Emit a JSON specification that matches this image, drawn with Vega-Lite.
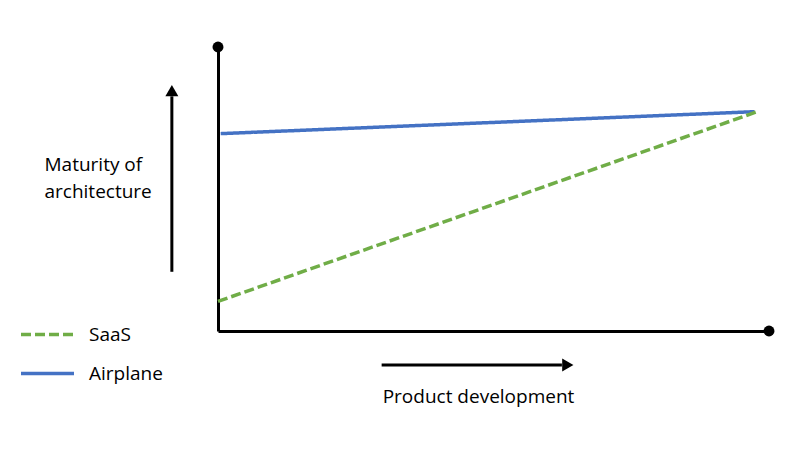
{
  "$schema": "https://vega.github.io/schema/vega-lite/v6.json",
  "width": 551,
  "height": 284,
  "autosize": "none",
  "padding": {"left": 218, "top": 47, "right": 41, "bottom": 119},
  "background": "white",
  "config": {"view": {"stroke": null}, "font": "Open Sans"},
  "datasets": {
    "series": [
      {"series": "Airplane", "stage": 0.5, "maturity": 90},
      {"series": "Airplane", "stage": 100, "maturity": 100},
      {"series": "SaaS", "stage": 0, "maturity": 13.5},
      {"series": "SaaS", "stage": 100.5, "maturity": 100}
    ],
    "ends": [
      {"stage": 0, "maturity": 129.5},
      {"stage": 102.7, "maturity": 0}
    ],
    "arrows": [
      {"arrow": "maturity", "stage": -8.6, "maturity": 27, "stage2": -8.6, "maturity2": 107},
      {"arrow": "development", "stage": 30.5, "maturity": -15.5, "stage2": 64.1, "maturity2": -15.5}
    ],
    "headsUp": [{"stage": -8.6, "maturity": 109.6}],
    "headsRight": [{"stage": 65.2, "maturity": -15.5}]
  },
  "layer": [
    {
      "data": {"name": "series"},
      "mark": {"type": "line", "strokeWidth": 3.5, "strokeCap": "butt"},
      "encoding": {
        "x": {
          "field": "stage", "type": "quantitative",
          "scale": {"domain": [0, 102.7], "nice": false, "zero": false},
          "axis": {
            "title": "Product development", "domain": true, "domainColor": "black", "domainWidth": 3,
            "ticks": false, "labels": false, "grid": false,
            "titleX": 260, "titleY": 65, "titleAlign": "center", "titleBaseline": "middle",
            "titleFontSize": 19, "titleFontWeight": "normal", "titleColor": "black", "titleFont": "Open Sans"
          }
        },
        "y": {
          "field": "maturity", "type": "quantitative",
          "scale": {"domain": [0, 129.5], "nice": false, "zero": false},
          "axis": {
            "title": ["Maturity of", "architecture"], "domain": true, "domainColor": "black", "domainWidth": 3,
            "ticks": false, "labels": false, "grid": false,
            "titleAngle": 0, "titleX": -174, "titleY": 117.5, "titleAlign": "left", "titleBaseline": "middle",
            "titleLineHeight": 27,
            "titleFontSize": 19, "titleFontWeight": "normal", "titleColor": "black", "titleFont": "Open Sans"
          }
        },
        "color": {
          "field": "series", "type": "nominal",
          "scale": {"domain": ["SaaS", "Airplane"], "range": ["#70AD47", "#4472C4"]},
          "legend": {
            "orient": "none", "legendX": -199, "legendY": 259, "title": null,
            "symbolType": "stroke", "symbolSize": 2809, "symbolStrokeWidth": 3.5,
            "labelFontSize": 19, "labelFont": "Open Sans", "labelColor": "black", "labelOffset": 13,
            "rowPadding": -17, "padding": 0
          }
        },
        "strokeDash": {
          "field": "series", "type": "nominal",
          "scale": {"domain": ["SaaS", "Airplane"], "range": [[10, 4], [1, 0]]},
          "legend": {
            "orient": "none", "legendX": -199, "legendY": 259, "title": null,
            "symbolType": "stroke", "symbolSize": 2809, "symbolStrokeWidth": 3.5,
            "labelFontSize": 19, "labelFont": "Open Sans", "labelColor": "black", "labelOffset": 13,
            "rowPadding": -17, "padding": 0
          }
        }
      }
    },
    {
      "data": {"name": "ends"},
      "mark": {"type": "point", "filled": true, "color": "black", "size": 120, "opacity": 1},
      "encoding": {
        "x": {"field": "stage", "type": "quantitative"},
        "y": {"field": "maturity", "type": "quantitative"}
      }
    },
    {
      "data": {"name": "arrows"},
      "mark": {"type": "rule", "color": "black", "strokeWidth": 3},
      "encoding": {
        "x": {"field": "stage", "type": "quantitative"},
        "y": {"field": "maturity", "type": "quantitative"},
        "x2": {"field": "stage2"},
        "y2": {"field": "maturity2"}
      }
    },
    {
      "data": {"name": "headsUp"},
      "mark": {"type": "point", "shape": "triangle-up", "filled": true, "color": "black", "size": 169, "opacity": 1},
      "encoding": {
        "x": {"field": "stage", "type": "quantitative"},
        "y": {"field": "maturity", "type": "quantitative"}
      }
    },
    {
      "data": {"name": "headsRight"},
      "mark": {"type": "point", "shape": "triangle-right", "filled": true, "color": "black", "size": 169, "opacity": 1},
      "encoding": {
        "x": {"field": "stage", "type": "quantitative"},
        "y": {"field": "maturity", "type": "quantitative"}
      }
    }
  ]
}
